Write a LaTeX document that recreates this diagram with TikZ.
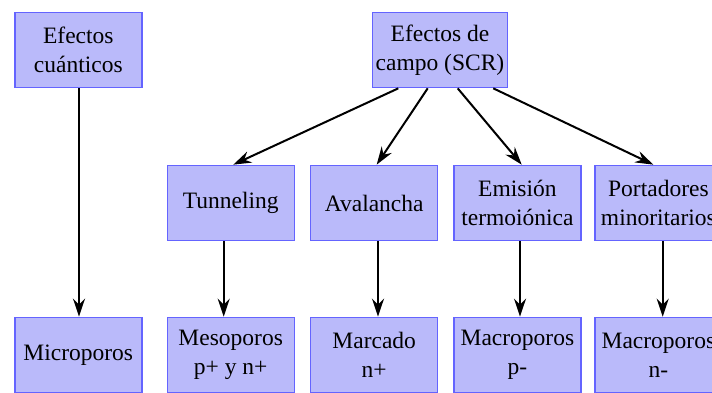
\documentclass[tikz,border=0pt]{standalone}
\usepackage{fontspec}
\setmainfont{Liberation Serif}
\usetikzlibrary{arrows.meta}
\definecolor{boxfill}{RGB}{186,186,250}
\definecolor{boxline}{RGB}{100,100,255}
\begin{document}
\begin{tikzpicture}[x=1pt,y=-1pt,
  box/.style={draw=boxline, fill=boxfill, line width=1.4pt, minimum width=127pt,
    minimum height=75.3pt, inner sep=0pt, align=center,
    font=\fontsize{23.5}{29}\selectfont},
  conn/.style={line width=2pt, -{Stealth[length=18pt,width=12pt,inset=6pt]}}]
\useasboundingbox (0,0) rectangle (712,393);
\clip (0,0) rectangle (712,393);
\node[box] (A) at (78.3,50) {Efectos\\cuánticos};
\node[box, minimum width=135.3pt] (B) at (440,50) {Efectos de\\campo (SCR)};
\node[box] (T) at (230.7,203) {Tunneling};
\node[box] (V) at (374.2,203) {Avalancha};
\node[box] (E) at (517.4,203) {Emisión\\termoiónica};
\node[box] (P) at (658.4,203) {Portadores\\minoritarios};
\node[box] (M1) at (78.3,355) {Microporos};
\node[box] (M2) at (230.7,355) {Mesoporos\\p+ y n+};
\node[box] (M3) at (374.2,355) {Marcado\\n+};
\node[box] (M4) at (517.4,355) {Macroporos\\p-};
\node[box] (M5) at (658.4,355) {Macroporos\\n-};
\draw[conn] ([xshift=0.7pt]A.south) -- ([xshift=0.7pt]M1.north);
\draw[conn] ([xshift=-7pt]T.south) -- ([xshift=-7pt]M2.north);
\draw[conn] ([xshift=3.8pt]V.south) -- ([xshift=3.8pt]M3.north);
\draw[conn] ([xshift=2.6pt]E.south) -- ([xshift=2.6pt]M4.north);
\draw[conn] ([xshift=4.3pt]P.south) -- ([xshift=4.3pt]M5.north);
\draw[conn] ([xshift=-41.7pt]B.south) -- ([xshift=2.6pt]T.north);
\draw[conn] ([xshift=-12.3pt]B.south) -- ([xshift=2.5pt]V.north);
\draw[conn] ([xshift=17.7pt]B.south) -- ([xshift=4.3pt]E.north);
\draw[conn] ([xshift=53.3pt]B.south) -- ([xshift=-5.1pt]P.north);
\end{tikzpicture}
\end{document}
